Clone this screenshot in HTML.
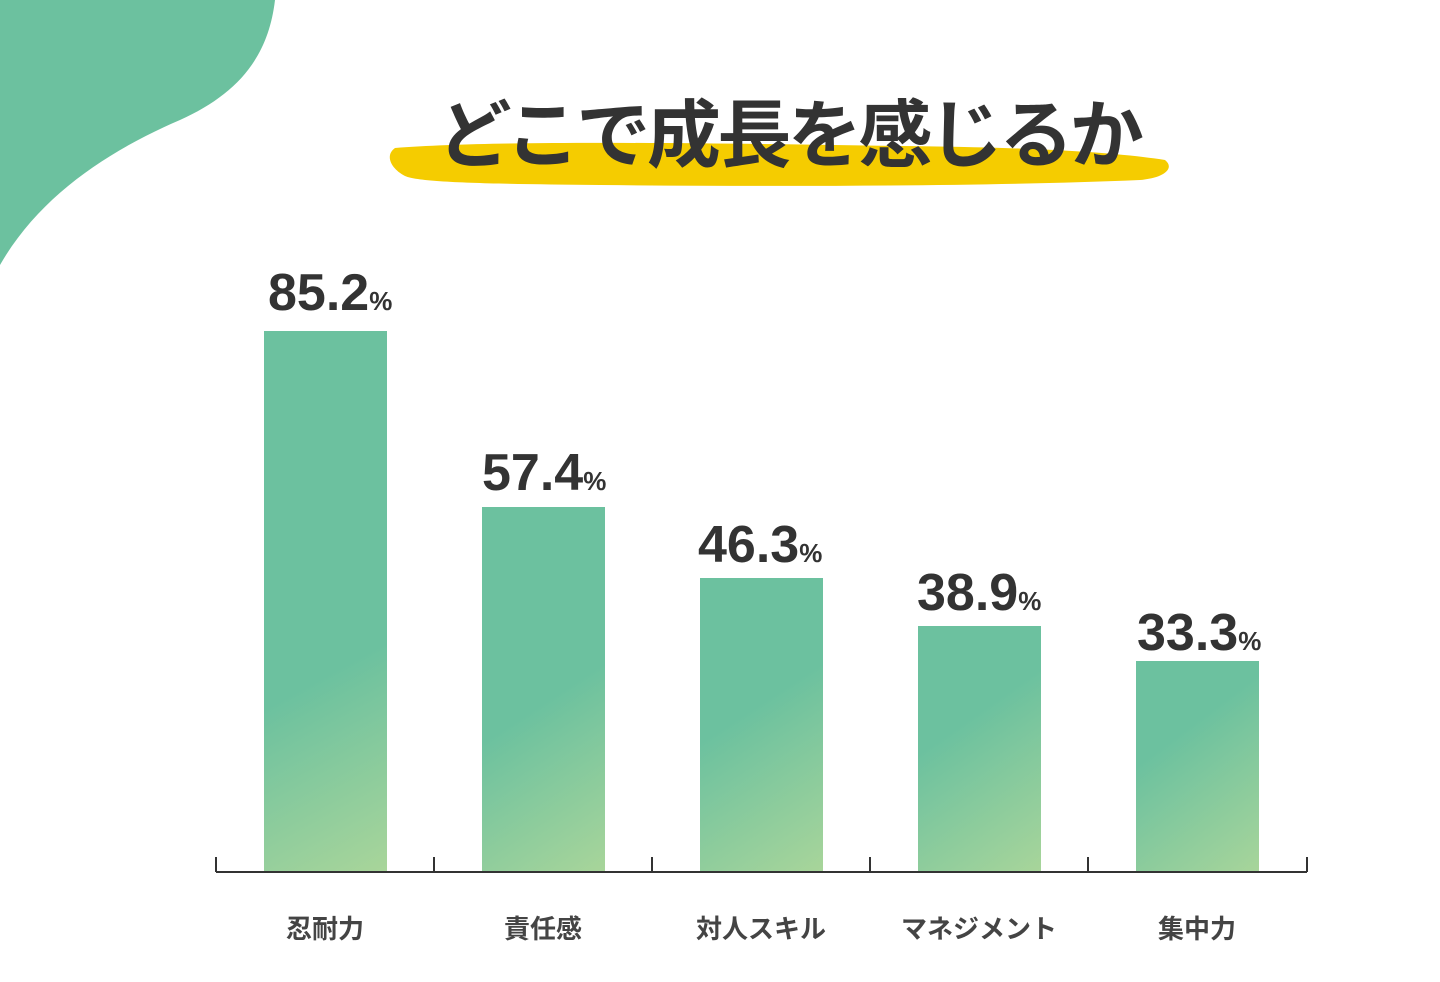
<!DOCTYPE html>
<html><head><meta charset="utf-8"><style>
html,body{margin:0;padding:0;background:#fff;}
svg{display:block}
text{font-family:"Liberation Sans","Noto Sans CJK JP",sans-serif;}
</style></head><body>
<svg width="1440" height="982" viewBox="0 0 1440 982" xmlns="http://www.w3.org/2000/svg">
<defs>
<linearGradient id="g1" gradientUnits="userSpaceOnUse" x1="300" y1="690" x2="400" y2="873"><stop offset="0" stop-color="#6cc19f"/><stop offset="1" stop-color="#abd69a"/></linearGradient>
<linearGradient id="g2" gradientUnits="userSpaceOnUse" x1="518" y1="720" x2="618" y2="873"><stop offset="0" stop-color="#6cc19f"/><stop offset="1" stop-color="#abd69a"/></linearGradient>
<linearGradient id="g3" gradientUnits="userSpaceOnUse" x1="736" y1="720" x2="836" y2="873"><stop offset="0" stop-color="#6cc19f"/><stop offset="1" stop-color="#abd69a"/></linearGradient>
<linearGradient id="g4" gradientUnits="userSpaceOnUse" x1="954" y1="730" x2="1054" y2="873"><stop offset="0" stop-color="#6cc19f"/><stop offset="1" stop-color="#abd69a"/></linearGradient>
<linearGradient id="g5" gradientUnits="userSpaceOnUse" x1="1172" y1="740" x2="1272" y2="873"><stop offset="0" stop-color="#6cc19f"/><stop offset="1" stop-color="#abd69a"/></linearGradient>
</defs>
<path d="M0 0 L275 0 C268 60 235 95 180 120 C110 150 40 195 0 265 Z" fill="#6cc19f"/>
<path d="M395 148 C500 140 700 143 900 146 C1000 147 1100 150 1165 160 C1175 168 1165 178 1140 180 C1000 186 800 187 600 185 C500 184 420 183 405 176 C390 168 385 155 395 148 Z" fill="#f5cc00"/>
<text x="789" y="161" text-anchor="middle" font-size="74" font-weight="bold" fill="#333" letter-spacing="-3.5">どこで成長を感じるか</text>
<rect x="264" y="331" width="123" height="542" fill="url(#g1)"/>
<rect x="482" y="507" width="123" height="366" fill="url(#g2)"/>
<rect x="700" y="578" width="123" height="295" fill="url(#g3)"/>
<rect x="918" y="626" width="123" height="247" fill="url(#g4)"/>
<rect x="1136" y="661" width="123" height="212" fill="url(#g5)"/>
<g stroke="#333" stroke-width="2" fill="none">
<line x1="216" y1="872" x2="1307" y2="872"/>
<line x1="216" y1="857" x2="216" y2="872"/><line x1="434" y1="857" x2="434" y2="872"/><line x1="652" y1="857" x2="652" y2="872"/><line x1="870" y1="857" x2="870" y2="872"/><line x1="1088" y1="857" x2="1088" y2="872"/><line x1="1307" y1="857" x2="1307" y2="872"/>
</g>
<g font-weight="bold" fill="#333" font-size="52">
<text x="268" y="310">85.2<tspan font-size="26">%</tspan></text>
<text x="482" y="490">57.4<tspan font-size="26">%</tspan></text>
<text x="698" y="562">46.3<tspan font-size="26">%</tspan></text>
<text x="917" y="610">38.9<tspan font-size="26">%</tspan></text>
<text x="1137" y="650">33.3<tspan font-size="26">%</tspan></text>
</g>
<g font-weight="bold" fill="#444" font-size="26" text-anchor="middle">
<text x="325" y="938">忍耐力</text>
<text x="543" y="938">責任感</text>
<text x="761" y="938">対人スキル</text>
<text x="979" y="938">マネジメント</text>
<text x="1197" y="938">集中力</text>
</g>
</svg>
</body></html>
